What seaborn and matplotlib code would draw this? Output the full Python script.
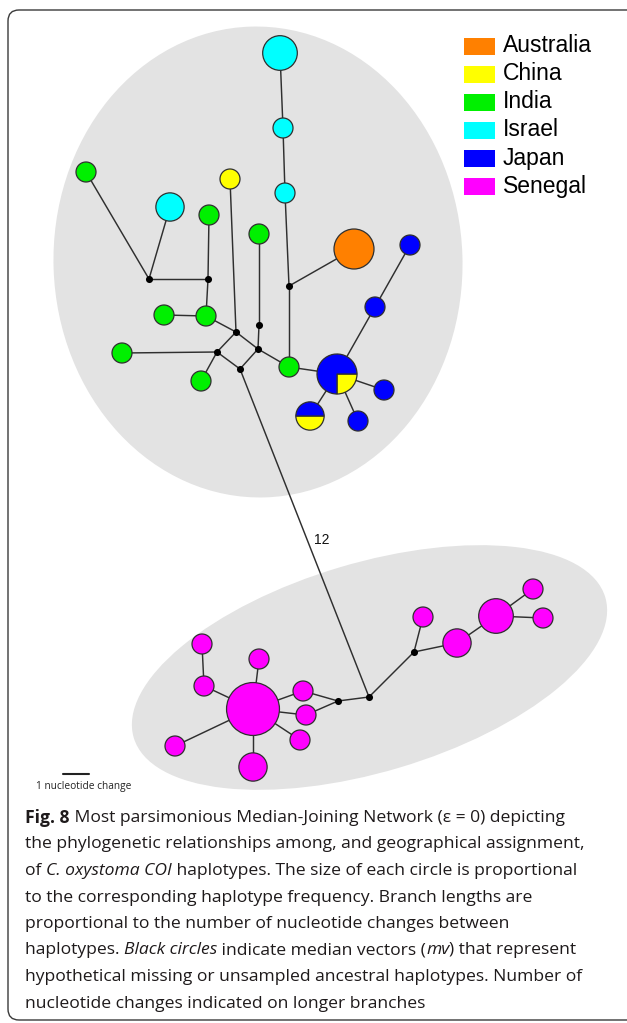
import numpy as np
import pandas as pd
import seaborn as sns
import matplotlib
matplotlib.use("Agg")
import matplotlib.pyplot as plt
from matplotlib.patches import Ellipse, Wedge, Rectangle, FancyBboxPatch
from matplotlib.font_manager import FontProperties

sns.set_theme(style="white")
plt.rcParams['font.family'] = ['Liberation Sans', 'DejaVu Sans']

# ---------------- data ----------------
countries = ["Australia", "China", "India", "Israel", "Japan", "Senegal"]
country_colors = ["#FF8000", "#FFFF00", "#00F000", "#00FFFF", "#0000FF", "#FF00FF"]

# single-origin haplotypes: id, position, frequency, origin
hap_id = ["H1", "H2", "H3", "H4", "H5", "H6", "H7", "H8", "H9", "H10", "H11",
          "H12", "H13", "H14", "H15", "H16", "H17", "H18",
          "S1", "S2", "S3", "S4", "S5", "S6", "S7", "S8", "S9",
          "S10", "S11", "S12", "S13", "S14"]
hap_x = [280, 283, 285, 170, 354, 230, 86, 209, 259, 164, 206,
         122, 201, 289, 410, 375, 384, 358,
         253, 202, 204, 259, 303, 306, 300, 253, 175,
         423, 457, 496, 533, 543]
hap_y = [53, 128, 193, 207, 249, 179, 172, 215, 234, 315, 316,
         353, 381, 367, 245, 307, 390, 421,
         709, 644, 686, 659, 691, 715, 740, 767, 746,
         617, 643, 616, 589, 618]
hap_n = [3, 1, 1, 2, 4, 1, 1, 1, 1, 1, 1,
         1, 1, 1, 1, 1, 1, 1,
         7, 1, 1, 1, 1, 1, 1, 2, 1,
         1, 2, 3, 1, 1]
hap_origin = ["Israel", "Israel", "Israel", "Israel", "Australia", "China",
              "India", "India", "India", "India", "India", "India", "India", "India",
              "Japan", "Japan", "Japan", "Japan",
              "Senegal", "Senegal", "Senegal", "Senegal", "Senegal", "Senegal",
              "Senegal", "Senegal", "Senegal", "Senegal", "Senegal", "Senegal",
              "Senegal", "Senegal"]

# shared haplotypes (Japan / China counts)
shared_id = ["H19", "H20"]
shared_x = [337, 310]
shared_y = [374, 416]
shared_japan = [3, 1]
shared_china = [1, 1]

# median vectors
mv_id = ["mv1", "mv2", "mv3", "mv4", "mv5", "mv6", "mv7", "mv8", "mv9", "mv10", "mv11"]
mv_x = [289, 149, 208, 236, 259, 258, 217, 240, 338, 369, 414]
mv_y = [286, 279, 279, 332, 325, 349, 352, 369, 701, 697, 652]

# network links
links = [("H1", "H2"), ("H2", "H3"), ("H3", "mv1"), ("mv1", "H5"), ("mv1", "H14"),
         ("H14", "mv6"), ("H14", "H19"), ("H19", "H16"), ("H16", "H15"),
         ("H19", "H17"), ("H19", "H18"), ("H19", "H20"),
         ("H6", "mv4"), ("H11", "mv4"), ("mv4", "mv6"), ("mv4", "mv7"),
         ("mv7", "mv8"), ("mv8", "mv6"), ("mv6", "mv5"), ("mv5", "H9"),
         ("mv7", "H12"), ("mv7", "H13"), ("H11", "mv3"), ("mv3", "H8"),
         ("mv3", "mv2"), ("mv2", "H7"), ("mv2", "H4"), ("H10", "H11"),
         ("mv8", "mv10"),
         ("mv10", "mv9"), ("mv9", "S5"), ("mv9", "S6"), ("S1", "S5"), ("S1", "S6"),
         ("S1", "S3"), ("S3", "S2"), ("S1", "S4"), ("S1", "S7"), ("S1", "S8"),
         ("S1", "S9"), ("mv10", "mv11"), ("mv11", "S10"), ("mv11", "S11"),
         ("S11", "S12"), ("S12", "S13"), ("S12", "S14")]
long_link_steps = 12

caption_lines = [
    [("Fig. 8", "b"), (" Most parsimonious Median-Joining Network (\u03b5 = 0) depicting", "n")],
    [("the phylogenetic relationships among, and geographical assignment,", "n")],
    [("of ", "n"), ("C. oxystoma COI", "i"), (" haplotypes. The size of each circle is proportional", "n")],
    [("to the corresponding haplotype frequency. Branch lengths are", "n")],
    [("proportional to the number of nucleotide changes between", "n")],
    [("haplotypes. ", "n"), ("Black circles", "i"), (" indicate median vectors (", "n"),
     ("mv", "i"), (") that represent", "n")],
    [("hypothetical missing or unsampled ancestral haplotypes. Number of", "n")],
    [("nucleotide changes indicated on longer branches", "n")],
]

# ---------------- figure ----------------
W, H = 627, 1023
fig = plt.figure(figsize=(W / 100, H / 100), dpi=100)
ax = fig.add_axes([0, 0, 1, 1])
palette = dict(zip(countries, country_colors))

# outer frame
ax.add_patch(FancyBboxPatch((8, 10), 640, 1010,
                            boxstyle="round,pad=0,rounding_size=11",
                            fc="white", ec="#3a3a3a", lw=1.0, zorder=0))

# population groupings
ax.add_patch(Ellipse((258, 262), 409, 471, angle=-1.8, fc="#E3E3E3", ec="none", zorder=1))
ax.add_patch(Ellipse((369.5, 667.5), 492, 209, angle=-16.6, fc="#E3E3E3", ec="none", zorder=1))

# node lookup
pos = {}
for i, x, y in zip(hap_id, hap_x, hap_y):
    pos[i] = (x, y)
for i, x, y in zip(shared_id, shared_x, shared_y):
    pos[i] = (x, y)
for i, x, y in zip(mv_id, mv_x, mv_y):
    pos[i] = (x, y)

for a, b in links:
    (x1, y1), (x2, y2) = pos[a], pos[b]
    ax.plot([x1, x2], [y1, y2], color="#2f2f2f", lw=1.05, zorder=2, solid_capstyle="butt")

# branch step label
ax.text(322, 540, str(long_link_steps), fontsize=10, ha="center", va="center",
        color="#111111", zorder=5)

# haplotype circles: area proportional to frequency (r = 10 px for one sequence)
unit_r = 10.0
unit_area = (2 * unit_r * 72 / 100) ** 2
df = pd.DataFrame({"x": hap_x, "y": hap_y, "n": hap_n, "origin": hap_origin})
sns.scatterplot(data=df, x="x", y="y", hue="origin", palette=palette, size="n",
                sizes=(unit_area * 1, unit_area * 7), size_norm=(1, 7),
                edgecolor="#2f2f2f", linewidth=0.9, legend=False, ax=ax, zorder=4)

# shared haplotypes drawn as pies (y axis points down, so angles run clockwise)
for x, y, nj, nc in zip(shared_x, shared_y, shared_japan, shared_china):
    total = nj + nc
    r = unit_r * np.sqrt(total)
    china_span = 360.0 * nc / total
    ax.add_patch(Wedge((x, y), r, 0, china_span, fc=palette["China"], ec="#2f2f2f", lw=0.9, zorder=4))
    ax.add_patch(Wedge((x, y), r, china_span, 360, fc=palette["Japan"], ec="#2f2f2f", lw=0.9, zorder=4))

# median vectors
sns.scatterplot(x=mv_x, y=mv_y, color="black", s=26, linewidth=0, ax=ax, zorder=5)

# legend
for k, (name, col) in enumerate(zip(countries, country_colors)):
    yc = 46 + 28 * k
    ax.add_patch(Rectangle((464, yc - 8.5), 31, 17, fc=col, ec="none", zorder=6))
    ax.text(503, yc, name, fontsize=16.5, ha="left", va="center", color="black", zorder=6)

# scale bar
ax.plot([63, 89], [774, 774], color="#222222", lw=1.5, zorder=6)
ax.text(83.5, 786, "1 nucleotide change", fontsize=7.3, ha="center", va="center",
        fontfamily=["Open Sans", "DejaVu Sans"], color="#222222", zorder=6)

# caption
renderer = fig.canvas.get_renderer()
cap_family = ["Open Sans", "DejaVu Sans"]


def seg_props(style, size):
    return FontProperties(family=cap_family, size=size,
                          weight="bold" if style == "b" else "normal",
                          style="italic" if style == "i" else "normal")


def seg_width(txt, style, size):
    # width in display pixels (1 px == 1 data unit here), spaces included
    fp = seg_props(style, size)
    w1, _, _ = renderer.get_text_width_height_descent("x" + txt + "x", fp, ismath=False)
    w0, _, _ = renderer.get_text_width_height_descent("xx", fp, ismath=False)
    return w1 - w0


cap_x0 = 25
ref_w = seg_width(caption_lines[1][0][0], "n", 10)
cap_size = 10 * 560 / ref_w

for k, line in enumerate(caption_lines):
    x = cap_x0
    y = 818 + 26.5 * k
    for txt, style in line:
        fp = seg_props(style, cap_size)
        ax.text(x, y, txt, fontproperties=fp, ha="left", va="center",
                color="#1e1a1b", zorder=6)
        x += seg_width(txt, style, cap_size)

ax.set_xlim(0, W)
ax.set_ylim(H, 0)
ax.axis("off")
fig.savefig("out.png", dpi=100)
